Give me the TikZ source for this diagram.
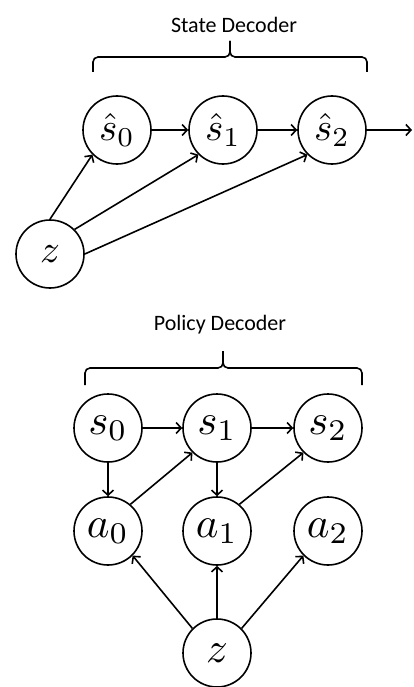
\documentclass[tikz,border=0pt]{standalone}
\usepackage{fontspec}
\newfontfamily\labelfont{Carlito}
\usetikzlibrary{arrows.meta}
% math labels are enlarged from 10pt, since the math fonts stop at 24.88pt
\newcommand\bigmath[2]{\scalebox{#1}{$#2$}}
\tikzset{
  var/.style={circle, draw, line width=1.6pt, minimum size=68pt, inner sep=0pt},
  edge/.style={line width=1.6pt, -{Straight Barb[length=5pt,width=11pt,line width=1.6pt]}},
  bracket/.style={line width=1.6pt, rounded corners=5pt},
  title/.style={font=\labelfont\fontsize{22}{25}\selectfont, inner sep=0pt}
}
\begin{document}
\begin{tikzpicture}[x=1pt, y=-1pt]
\useasboundingbox (0,0) rectangle (413,687);

% ---- State decoder ----
\node[title] (stitle) at (234,25) {State Decoder};
\draw[bracket] (93,72) -- (93,57) -- (230,57) -- (230,41);
\draw[bracket] (367,72) -- (367,57) -- (230,57) -- (230,41);

\node[var] (sh0) at (117,130) {\bigmath{3.9}{\hat{s}_0}};
\node[var] (sh1) at (223,130) {\bigmath{3.9}{\hat{s}_1}};
\node[var] (sh2) at (332,130) {\bigmath{3.9}{\hat{s}_2}};
\node[var] (zt)  at (50,254)  {\bigmath{3.9}{z}};
\coordinate (next) at (412,130);

\draw[edge] (sh0) -- (sh1);
\draw[edge] (sh1) -- (sh2);
\draw[edge] (sh2) -- (next);
\draw[edge] (zt.north) -- (sh0.south west);
\draw[edge] (zt.north east) -- (sh1.south west);
\draw[edge] (zt.east) -- (sh2.south west);

% ---- Policy decoder ----
\node[title] (ptitle) at (220,325) {Policy Decoder};
\draw[bracket] (85,385) -- (85,368) -- (223,368) -- (223,351);
\draw[bracket] (362,385) -- (362,368) -- (223,368) -- (223,351);

\node[var] (s0) at (108,428) {\bigmath{4.3}{s_0}};
\node[var] (s1) at (217,428) {\bigmath{4.3}{s_1}};
\node[var] (s2) at (328,428) {\bigmath{4.3}{s_2}};
\node[var] (a0) at (108,531) {\bigmath{4.3}{a_0}};
\node[var] (a1) at (217,531) {\bigmath{4.3}{a_1}};
\node[var] (a2) at (328,531) {\bigmath{4.3}{a_2}};
\node[var] (zb) at (217,653) {\bigmath{4.3}{z}};

\draw[edge] (s0) -- (s1);
\draw[edge] (s1) -- (s2);
\draw[edge] (s0) -- (a0);
\draw[edge] (s1) -- (a1);
\draw[edge] (a0.50) -- (s1.south west);
\draw[edge] (a1.50) -- (s2.south west);
\draw[edge] (zb.north west) -- (a0.south east);
\draw[edge] (zb) -- (a1);
\draw[edge] (zb.north east) -- (a2.south west);
\end{tikzpicture}
\end{document}
